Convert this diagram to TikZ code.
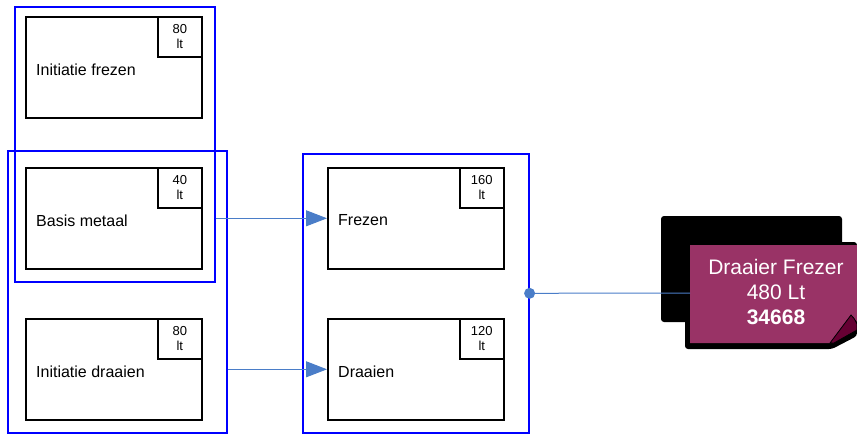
\documentclass[tikz,border=0pt]{standalone}
\usepackage{fontspec}
\setmainfont{Liberation Sans}
\usetikzlibrary{arrows.meta}
\definecolor{grpblue}{RGB}{0,0,255}
\definecolor{lnblue}{RGB}{74,125,200}
\definecolor{cardpink}{RGB}{153,51,102}
\definecolor{flapcol}{RGB}{102,0,51}
\begin{document}
\begin{tikzpicture}[x=1pt,y=-1pt,
  course/.style={draw=black, line width=1.6pt, minimum width=176pt, minimum height=101pt, anchor=north west, inner sep=0pt},
  tagbox/.style={draw=black, line width=1.6pt, minimum width=44pt, minimum height=40pt, anchor=north east, align=center, inner sep=0pt, font=\fontsize{13}{15}\selectfont},
  grp/.style={draw=grpblue, line width=1.6pt, anchor=north west, inner sep=0pt},
  lbl/.style={anchor=west, inner sep=0pt, font=\fontsize{16}{18}\selectfont},
  conn/.style={draw=lnblue, line width=1pt},
  arr/.style={conn, -{Triangle[length=21pt,width=16pt]}},
  cardtxt/.style={align=center, text=white, inner sep=0pt, font=\fontsize{21}{25}\selectfont}
]
\useasboundingbox (0,0) rectangle (857,434);
% course boxes
\node[course] (if) at (25,16) {};
\node[course] (bm) at (25,167) {};
\node[course] (id) at (25,318) {};
\node[course] (fr) at (327,167) {};
\node[course] (dr) at (327,318) {};
\node[tagbox] (tif) at (if.north east) {80\\lt};
\node[tagbox] (tbm) at (bm.north east) {40\\lt};
\node[tagbox] (tid) at (id.north east) {80\\lt};
\node[tagbox] (tfr) at (fr.north east) {160\\lt};
\node[tagbox] (tdr) at (dr.north east) {120\\lt};
\node[lbl] (lif) at ([xshift=11pt,yshift=-2pt]if.west) {Initiatie frezen};
\node[lbl] (lbm) at ([xshift=11pt,yshift=-2pt]bm.west) {Basis metaal};
\node[lbl] (lid) at ([xshift=11pt,yshift=-2pt]id.west) {Initiatie draaien};
\node[lbl] (lfr) at ([xshift=11pt,yshift=-2pt]fr.west) {Frezen};
\node[lbl] (ldr) at ([xshift=11pt,yshift=-2pt]dr.west) {Draaien};
% groups
\node[grp, minimum width=200pt, minimum height=275pt] (ga) at (14,6) {};
\node[grp, minimum width=219pt, minimum height=282pt] (gb) at (7,150) {};
\node[grp, minimum width=226pt, minimum height=279pt] (gc) at (302,153) {};
% card
\fill[black, rounded corners=3pt] (661,216) rectangle (842,322);
\fill[black, rounded corners=3pt] (685,242) -- (857,242) -- (857,336) -- (832,349) -- (685,349) -- cycle;
\fill[cardpink] (690,245) -- (857,245) -- (857,322) -- (851,315) -- (830,343) -- (690,343) -- cycle;
\filldraw[fill=flapcol, draw=black, line width=0.8pt] (830,343) -- (851,315) .. controls (854,318) .. (857,324) -- (857,330) -- (834,343) -- cycle;
\node[cardtxt] (card) at (776,292) {Draaier Frezer\\480 Lt\\\bfseries 34668};
\coordinate (cardw) at (690,293);
% connectors
\draw[arr] (ga.east |- fr.west) -- (fr.west);
\draw[arr] (gb.east |- dr.west) -- (dr.west);
\draw[conn] (gc.east) -- (cardw);
\fill[lnblue] (gc.east) circle (5.5pt);
\end{tikzpicture}
\end{document}
